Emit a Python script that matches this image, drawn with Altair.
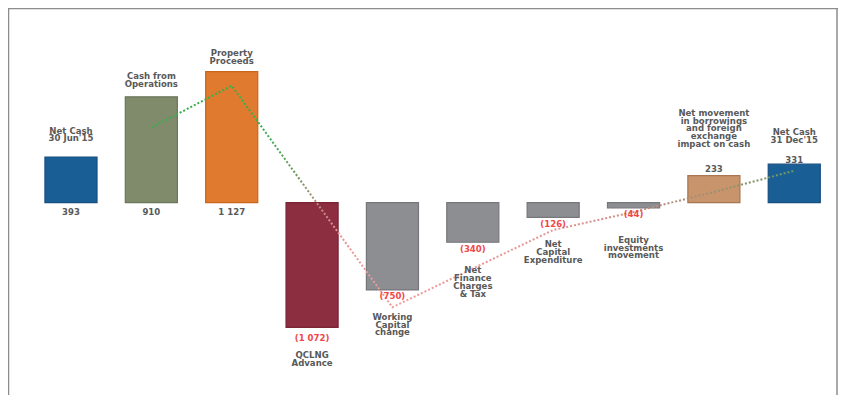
import altair as alt
import pandas as pd

# ---- data ----
keys = ["nc0", "ops", "prop", "qclng", "wc", "fin", "capex", "eq", "borrow", "nc1"]
cat_labels = ["Net Cash\n30 Jun'15", "Cash from\nOperations", "Property\nProceeds",
              "QCLNG\nAdvance", "Working\nCapital\nchange", "Net\nFinance\nCharges\n& Tax",
              "Net\nCapital\nExpenditure", "Equity\ninvestments\nmovement",
              "Net movement\nin borrowings\nand foreign\nexchange\nimpact on cash",
              "Net Cash\n31 Dec'15"]
values = [393, 910, 1127, -1072, -750, -340, -126, -44, 233, 331]
value_labels = ["393", "910", "1 127", "(1 072)", "(750)", "(340)", "(126)", "(44)", "233", "331"]
trend_keys = ["ops", "prop", "wc", "fin", "capex", "eq", "borrow", "nc1"]
trend_values = [645, 1006, -899, -566, -235, -80, 92, 275]

# ---- styles ----
fill_colors = ["#1a5e96", "#7f8b6b", "#e07a2e", "#8c2d40", "#8d8e92", "#8d8e92",
               "#8d8e92", "#8d8e92", "#c8946c", "#1a5e96"]
stroke_colors = ["#174f80", "#6c7659", "#c8661c", "#7a2436", "#76777b", "#76777b",
                 "#76777b", "#76777b", "#a87650", "#174f80"]
cat_gap = [19, 13, 11, 27, 26, 27, 26, 31, 32, 25]
val_anchor = ["zero", "zero", "zero", "end", "end", "end", "end", "end", "end", "end"]
val_gap = [9.5, 9.5, 9.5, 11, 6, 7, 7, 6, 7, 4]

W, H = 830, 387
FONT = "Liberation Sans Narrow, DejaVu Sans Condensed, Arial Narrow, sans-serif"
FS = 9.5
LH = 7.8
GRAY = "#595959"
RED = "#f04848"

df = pd.DataFrame({"key": keys, "cat": cat_labels, "value": values, "vlabel": value_labels})
tdf = pd.DataFrame({"key": trend_keys, "trend": trend_values})

xscale = alt.Scale(type="band", domain=keys, paddingInner=0.352, paddingOuter=0.34, align=0.676)
yscale = alt.Scale(domain=[-1653.5, 1674.1], nice=False, zero=False)
X = alt.X("key:N", scale=xscale, axis=None)
Y = alt.Y("value:Q", scale=yscale, axis=None)

base = alt.Chart(df)

bars = base.transform_calculate(zero="0").mark_bar(strokeWidth=1.2).encode(
    x=X,
    y=Y,
    y2=alt.Y2("zero:Q"),
    fill=alt.Fill("key:N", scale=alt.Scale(domain=keys, range=fill_colors), legend=None),
    stroke=alt.Stroke("key:N", scale=alt.Scale(domain=keys, range=stroke_colors), legend=None),
)

grad = alt.LinearGradient(
    gradient="linear", x1=0, x2=0, y1=0, y2=1,
    stops=[
        alt.GradientStop(offset=0, color="#2db34a"),
        alt.GradientStop(offset=0.3, color="#45a84d"),
        alt.GradientStop(offset=0.42, color="#7c9462"),
        alt.GradientStop(offset=0.55, color="#c08a80"),
        alt.GradientStop(offset=0.66, color="#e79494"),
        alt.GradientStop(offset=1, color="#ef9c9c"),
    ],
)
trend = alt.Chart(tdf).mark_line(stroke=grad, strokeWidth=2, strokeDash=[2, 2]).encode(
    x=X,
    y=alt.Y("trend:Q", scale=yscale, axis=None),
)

layers = [bars, trend]
for i, k in enumerate(keys):
    pos = values[i] >= 0
    n_lines = cat_labels[i].count("\n") + 1
    sub = base.transform_filter(alt.datum.key == k)
    if pos:
        ct = sub.mark_text(font=FONT, fontSize=FS, fontWeight="bold", color=GRAY,
                           lineBreak="\n", lineHeight=LH, baseline="bottom",
                           align="center", dy=-(cat_gap[i] - 5.4) - (n_lines - 1) * LH)
    else:
        ct = sub.mark_text(font=FONT, fontSize=FS, fontWeight="bold", color=GRAY,
                           lineBreak="\n", lineHeight=LH, baseline="top",
                           align="center", dy=(cat_gap[i] - 4.1))
    layers.append(ct.encode(x=X, y=Y, text="cat:N"))
    if val_anchor[i] == "zero":
        vt = sub.transform_calculate(zero="0").mark_text(
            font=FONT, fontSize=FS, fontWeight="bold", color=GRAY,
            baseline="middle", align="center", dy=val_gap[i])
        layers.append(vt.encode(x=X, y=alt.Y("zero:Q", scale=yscale, axis=None), text="vlabel:N"))
    else:
        vt = sub.mark_text(font=FONT, fontSize=FS, fontWeight="bold",
                           color=(GRAY if pos else RED), baseline="middle", align="center",
                           dy=(-val_gap[i] if pos else val_gap[i]))
        layers.append(vt.encode(x=X, y=Y, text="vlabel:N"))

frame_df = pd.DataFrame({"a": [0]})
fr = alt.Chart(frame_df).mark_rule(color="#8c8c8c", strokeWidth=1.5)
layers.append(fr.encode(x=alt.value(0), x2=alt.value(W), y=alt.value(0.5)))
layers.append(fr.encode(x=alt.value(0.5), y=alt.value(0), y2=alt.value(H)))
layers.append(fr.encode(x=alt.value(W - 1), y=alt.value(0), y2=alt.value(H)))

chart = alt.layer(*layers).properties(
    width=W, height=H, padding=0, autosize=alt.AutoSizeParams(type="none"),
    background="white",
).configure_view(strokeWidth=0)

chart.save("out.html", embed_options={"renderer": "svg", "actions": False})
